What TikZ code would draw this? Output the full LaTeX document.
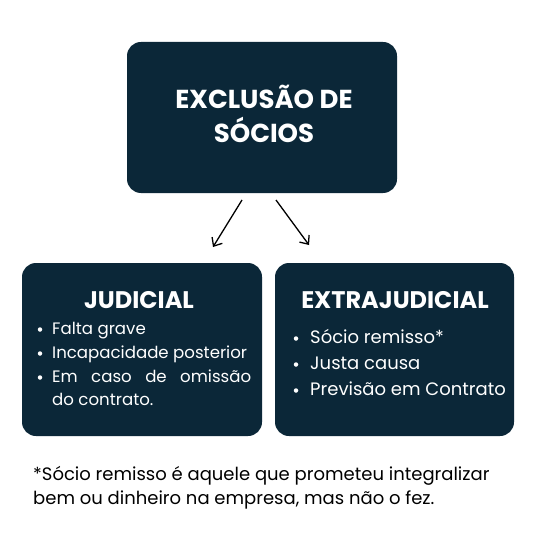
\documentclass[tikz,border=0pt]{standalone}
\usepackage{fontspec}
\setmainfont{Poppins}
\usetikzlibrary{arrows.meta}
\definecolor{navy}{HTML}{0B2738}
\tikzset{
  box/.style={fill=navy, rounded corners=14pt, draw=none},
  head/.style={text=white, font=\bfseries\fontsize{24}{26}\selectfont, align=center},
  item/.style={text=white, font=\fontsize{16.6}{23.5}\selectfont, anchor=base west, inner sep=0pt},
  itemr/.style={text=white, font=\fontsize{18}{26}\selectfont, anchor=base west, inner sep=0pt},
  dot/.style={circle, fill=white, inner sep=0pt, minimum size=4.5pt},
  arr/.style={-{Straight Barb[length=7pt,width=12pt]}, line width=1.3pt, black},
  note/.style={font=\fontsize{18}{24}\selectfont, anchor=base west, inner sep=0pt}
}
\begin{document}
\begin{tikzpicture}[x=1pt,y=-1pt]
\useasboundingbox[fill=white] (0,0) rectangle (540,540);
% boxes
\path[box] (127,42) rectangle (397,193) node[pos=0.5] (top) {};
\path[box] (22,263) rectangle (262,436) node[pos=0.5] (left) {};
\path[box] (275,263) rectangle (514,436) node[pos=0.5] (right) {};
% titles
\node[head, font=\bfseries\fontsize{26}{34}\selectfont] (tt) at (264,114) {EXCLUSÃO DE\\SÓCIOS};
\node[head] (lt) at (139,300) {JUDICIAL};
\node[head] (rt) at (395,300) {EXTRAJUDICIAL};
% left items
\node[dot] (ld1) at (40,329.5) {};
\node[item] (l1) at (52,334) {Falta grave};
\node[dot] (ld2) at (40,353.5) {};
\node[item] (l2) at (52,358) {Incapacidade posterior};
\node[dot] (ld3) at (40,377.5) {};
\node[item] (l3) at (52,382) {\hbox to 199pt{Em\hfill caso\hfill de\hfill omissão}};
\node[item] (l4) at (52,405) {do contrato.};
% right items
\node[dot] (rd1) at (296,338.5) {};
\node[itemr] (r1) at (310,343.5) {Sócio remisso*};
\node[dot] (rd2) at (296,364.5) {};
\node[itemr] (r2) at (310,369.5) {Justa causa};
\node[dot] (rd3) at (296,390.5) {};
\node[itemr] (r3) at (310,395.5) {Previsão em Contrato};
% arrows
\coordinate (a1s) at (242,200);
\coordinate (a1e) at (213,247);
\coordinate (a2s) at (276,200);
\coordinate (a2e) at (309,245);
\draw[arr] (a1s) -- (a1e);
\draw[arr] (a2s) -- (a2e);
% footnote
\node[note] (fn1) at (33,480) {*Sócio remisso é aquele que prometeu integralizar};
\node[note] (fn2) at (33,504) {bem ou dinheiro na empresa, mas não o fez.};
\end{tikzpicture}
\end{document}
